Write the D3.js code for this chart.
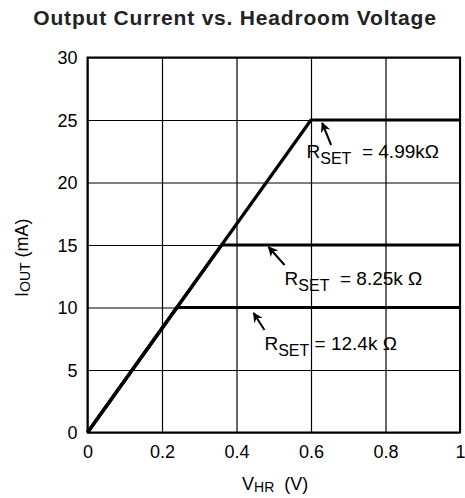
<!DOCTYPE html>
<html>
<head>
<meta charset="utf-8">
<script src="https://cdn.jsdelivr.net/npm/d3@7"></script>
<style>
  body { margin: 0; background: #fff; }
  text { font-family: "Liberation Sans", Arial, sans-serif; fill: #000; }
</style>
</head>
<body>
<div id="chart"></div>
<script>
// curve data: each R_SET gives a current limit, reached where the shared ramp meets it
var rsetLabels = ["4.99k\u03A9", "8.25k \u03A9", "12.4k \u03A9"];
var ioutLimit = [25, 15, 10];
var kneeVolt = [0.6, 0.36, 0.24];
var vMax = 1;

// annotation anchors (data units): arrow tip, arrow tail, label start
var arrowTip = [[0.63, 24.76], [0.486, 14.84], [0.446, 9.56]];
var arrowTail = [[0.654, 23.0], [0.529, 13.4], [0.475, 8.2]];
var labelPos = [[0.588, 21.96], [0.529, 11.8], [0.475, 6.6]];
var labelGap = ["\u00A0\u00A0= ", "\u00A0\u00A0= ", " = "];

var xTicks = [0, 0.2, 0.4, 0.6, 0.8, 1];
var yTicks = [0, 5, 10, 15, 20, 25, 30];

var margin = { top: 57.5, right: 5, bottom: 65.5, left: 87.5 },
    width = 465 - margin.left - margin.right,
    height = 498 - margin.top - margin.bottom;

var svg = d3.select("#chart")
    .append("svg")
    .attr("width", 465)
    .attr("height", 498);

svg.append("text")
    .attr("x", 235)
    .attr("y", 25)
    .attr("text-anchor", "middle")
    .style("font-size", "21px")
    .style("letter-spacing", "0.8px")
    .style("font-weight", "bold")
    .style("fill", "#222")
    .text("Output Current vs. Headroom Voltage");

var g = svg.append("g")
    .attr("transform", "translate(" + margin.left + "," + margin.top + ")");

var x = d3.scaleLinear().domain([0, 1]).range([0, width]);
var y = d3.scaleLinear().domain([0, 30]).range([height, 0]);

// grid lines via axes
var xAxis = g.append("g")
    .attr("transform", "translate(0," + height + ")")
    .call(d3.axisBottom(x).tickValues(xTicks).tickSize(-height).tickPadding(11)
        .tickFormat(function (d) { return d === 0 || d === 1 ? d : d3.format(".1f")(d); }));
var yAxis = g.append("g")
    .call(d3.axisLeft(y).tickValues(yTicks).tickSize(-width).tickPadding(10));

[xAxis, yAxis].forEach(function (a) {
    a.select(".domain").remove();
    a.selectAll("line").attr("stroke", "#000").attr("stroke-width", 1.2);
    a.selectAll("text").style("font-size", "18px").style("font-family", "Liberation Sans, Arial, sans-serif").attr("fill", "#000");
});
yAxis.selectAll("text").attr("dy", "0.36em");
xAxis.selectAll("text").attr("dy", "0.78em");

// frame
g.append("rect")
    .attr("width", width)
    .attr("height", height)
    .attr("fill", "none")
    .attr("stroke", "#000")
    .attr("stroke-width", 2);

// curves
var line = d3.line()
    .x(function (d) { return x(d[0]); })
    .y(function (d) { return y(d[1]); });

ioutLimit.forEach(function (lim, i) {
    g.append("path")
        .datum([[0, 0], [kneeVolt[i], lim], [vMax, lim]])
        .attr("d", line)
        .attr("fill", "none")
        .attr("stroke", "#000")
        .attr("stroke-width", 3.2)
        .attr("stroke-linejoin", "round");
});

// annotations
svg.append("defs").append("marker")
    .attr("id", "head")
    .attr("viewBox", "0 0 10 10")
    .attr("refX", 9).attr("refY", 5)
    .attr("markerWidth", 10).attr("markerHeight", 10)
    .attr("markerUnits", "userSpaceOnUse")
    .attr("orient", "auto")
    .append("path")
    .attr("d", "M0,0 L10,5 L0,10 L3,5 Z")
    .attr("fill", "#000");

rsetLabels.forEach(function (lab, i) {
    g.append("line")
        .attr("x1", x(arrowTail[i][0])).attr("y1", y(arrowTail[i][1]))
        .attr("x2", x(arrowTip[i][0])).attr("y2", y(arrowTip[i][1]))
        .attr("stroke", "#000")
        .attr("stroke-width", 2)
        .attr("marker-end", "url(#head)");

    var t = g.append("text")
        .attr("x", x(labelPos[i][0]))
        .attr("y", y(labelPos[i][1]))
        .style("font-size", "19px");
    t.append("tspan").text("R");
    t.append("tspan").attr("dy", 6).style("font-size", "16px").text("SET");
    t.append("tspan").attr("dy", -6).text(labelGap[i] + lab);
});

// axis titles
var xl = svg.append("text")
    .attr("x", 242)
    .attr("y", 490)
    .style("font-size", "18px");
xl.append("tspan").text("V");
xl.append("tspan").attr("dy", 2).style("font-size", "14px").text("HR");
xl.append("tspan").attr("dy", -2).text("\u00A0\u00A0(V)");

var yl = svg.append("text")
    .attr("transform", "translate(28,297) rotate(-90)")
    .style("font-size", "18px");
yl.append("tspan").text("I");
yl.append("tspan").attr("dy", 2).style("font-size", "14px").text("OUT");
yl.append("tspan").attr("dy", -2).text(" (mA)");
</script>
</body>
</html>
